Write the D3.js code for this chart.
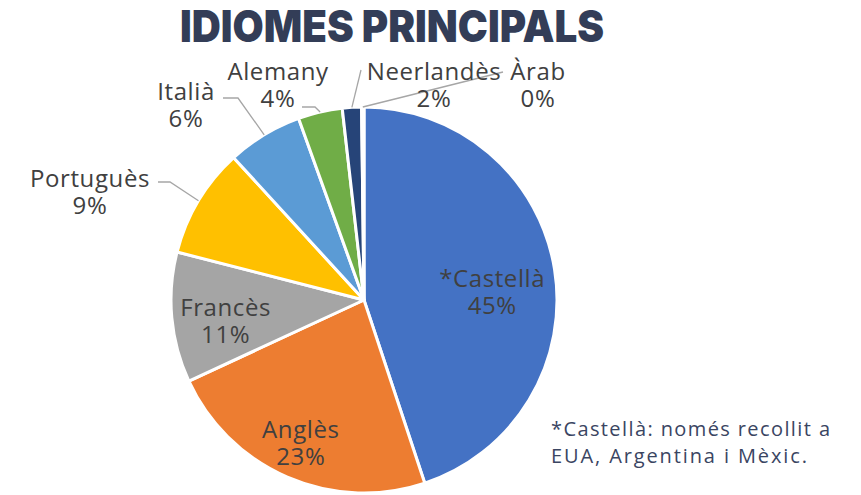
<!DOCTYPE html>
<html>
<head>
<meta charset="utf-8">
<script src="https://cdn.jsdelivr.net/npm/d3@7"></script>
<style>
  body { margin: 0; background: #fff; }
  svg { display: block; }
  .lbl { font-family: "Open Sans", sans-serif; font-size: 24px; letter-spacing: 0.6px; fill: #404040; }
  .note { font-family: "Open Sans", sans-serif; font-size: 20px; fill: #3a4562; }
</style>
</head>
<body>
<script>
// values (percent of total)
var languages = ["*Castellà", "Anglès", "Francès", "Portuguès", "Italià", "Alemany", "Neerlandès", "Àrab"];
var shares    = [44.9, 23.2, 10.9, 9.2, 6.3, 3.7, 1.6, 0.2];
var colors    = ["#4472c4", "#ed7d31", "#a5a5a5", "#ffc000", "#5b9bd5", "#70ad47", "#264478", "#9e480e"];
var title = "IDIOMES PRINCIPALS";
var note  = ["*Castellà: només recollit a", "EUA, Argentina i Mèxic."];
var noteWidths = [279, 256];

var width = 861, height = 495,
    cx = 364, cy = 300, radius = 193;

// label placement: inside labels nudge from centroid, outside labels get explicit spot + leader
var labelLayout = [
  {inside: true, dx: -9, dy: 9},
  {inside: true, dx: -8, dy: 10},
  {inside: true, dx: 0, dy: 3},
  {x: 90,  y: 187, lead: [[158, 182], [170, 182]]},
  {x: 186, y: 100, lead: [[223, 98], [238, 98]]},
  {x: 278, y: 80,  lead: [[302, 107], [315, 107]]},
  {x: 434, y: 80,  lead: [[361, 70]]},
  {x: 538, y: 80,  lead: [[503, 72]]}
];

var svg = d3.select("body").append("svg")
    .attr("width", width)
    .attr("height", height);

svg.append("text")
    .attr("x", 180)
    .attr("y", 42)
    .attr("textLength", 424)
    .attr("lengthAdjust", "spacingAndGlyphs")
    .style("font-family", "Inter, Lato, sans-serif")
    .style("font-weight", 900)
    .style("font-size", "44px")
    .style("fill", "#333d57")
    .text(title);

var pie = d3.pie().sort(null).value(function(d) { return d; });
var arcs = pie(shares);

var arc = d3.arc().innerRadius(0).outerRadius(radius);
var labelArc = d3.arc().innerRadius(radius * 0.72).outerRadius(radius * 0.72);
var edgeArc = d3.arc().innerRadius(radius).outerRadius(radius);

var g = svg.append("g")
    .attr("transform", "translate(" + cx + "," + cy + ")");

g.selectAll(".slice")
    .data(arcs)
  .enter().append("path")
    .attr("class", "slice")
    .attr("d", arc)
    .style("fill", function(d, i) { return colors[i]; })
    .style("stroke", "#fff")
    .style("stroke-width", 3)
    .style("stroke-linejoin", "round");

// leader lines for the small slices
arcs.forEach(function(d, i) {
  var L = labelLayout[i];
  if (L.inside) return;
  var p = edgeArc.centroid(d);
  var pts = L.lead.map(function(q) { return [q[0] - cx, q[1] - cy]; });
  pts.push(p);
  g.append("path")
      .attr("d", d3.line()(pts))
      .style("fill", "none")
      .style("stroke", "#a6a6a6")
      .style("stroke-width", 1.3);
});

arcs.forEach(function(d, i) {
  var L = labelLayout[i], x, y;
  if (L.inside) {
    var c = labelArc.centroid(d);
    x = c[0] + L.dx + cx;
    y = c[1] + L.dy + cy;
  } else {
    x = L.x;
    y = L.y;
  }
  svg.append("text")
      .attr("class", "lbl")
      .attr("text-anchor", "middle")
      .attr("x", x)
      .attr("y", y)
      .text(languages[i]);
  svg.append("text")
      .attr("class", "lbl")
      .attr("text-anchor", "middle")
      .attr("x", x)
      .attr("y", y + 27)
      .text(Math.round(shares[i]) + "%");
});

svg.selectAll(".note")
    .data(note)
  .enter().append("text")
    .attr("class", "note")
    .attr("x", 551)
    .attr("y", function(d, i) { return 436 + i * 27; })
    .attr("textLength", function(d, i) { return noteWidths[i]; })
    .attr("lengthAdjust", "spacing")
    .text(function(d) { return d; });
</script>
</body>
</html>
